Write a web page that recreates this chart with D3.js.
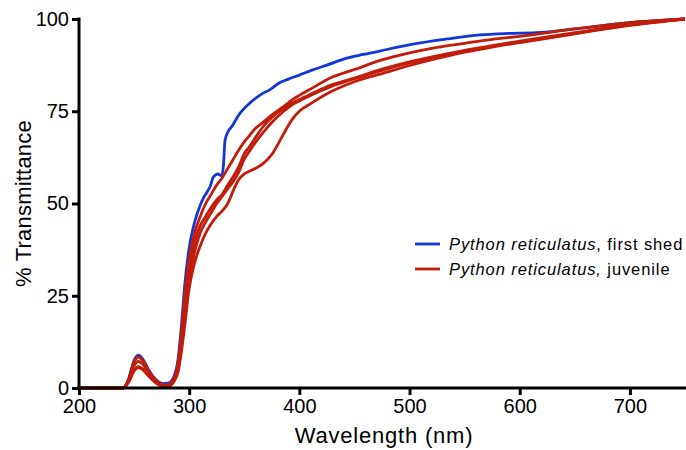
<!DOCTYPE html>
<html>
<head>
<meta charset="utf-8">
<script src="https://cdn.jsdelivr.net/npm/d3@7"></script>
<style>
  body { margin: 0; background: #fff; }
  svg { display: block; font-family: "Liberation Sans", Arial, sans-serif; }
</style>
</head>
<body>
<svg id="chart"></svg>
<script>
const WIDTH = 686, HEIGHT = 450;

const margin = { top: 19, bottom: 62, left: 79, right: 1 };

// first shed (blue)
const shedWl = [200, 240, 245, 250, 254, 258, 263, 270, 276, 281, 286, 290, 293, 296, 300, 305, 310, 313, 316, 319, 322, 326, 329.5, 331, 332.5, 335, 339, 345, 355, 365, 373, 382, 390, 400, 412, 425, 443, 458, 473, 488, 503, 534, 564, 590, 615, 650, 700, 750];
const shedT  = [0, 0, 2.5, 7.5, 8.9, 7.8, 5, 2.2, 1.2, 1.3, 3, 8, 17, 28, 38, 45, 49.5, 51.5, 53, 54.6, 57.2, 58, 57.5, 60, 67, 69.3, 71, 74, 77.2, 79.5, 80.8, 82.7, 83.7, 84.8, 86.2, 87.5, 89.4, 90.4, 91.3, 92.3, 93.2, 94.6, 95.7, 96.1, 96.3, 97.3, 99, 100];

// juvenile (red), four scans
const juvWl = [200, 240, 245, 250, 254, 258, 263, 270, 276, 281, 286, 290, 293, 296, 300, 305, 310, 315, 320, 325, 330, 335, 340, 345, 350, 355, 360, 367, 376, 385, 394, 400, 410, 428, 450, 475, 500, 525, 550, 575, 600, 650, 700, 750];
const juv1T = [0, 0, 2.3, 7, 8.4, 7.4, 4.8, 2, 0.9, 0.9, 2.5, 7, 15, 25, 35, 42, 46.5, 50, 52.5, 55, 57, 59.5, 62, 64.5, 66.7, 68.5, 70.3, 72, 74.2, 76.1, 78.2, 79.3, 81, 84, 86.3, 88.9, 90.8, 92.3, 93.4, 94.5, 95.3, 97.3, 99, 100];
const juv2T = [0, 0, 2, 6, 7.2, 6.4, 4.2, 1.7, 0.8, 0.8, 2.2, 6, 13, 22, 32, 39.5, 44, 46.5, 49, 51, 52.5, 55, 57.3, 60, 63.5, 65.5, 67.8, 70.8, 73.6, 75.6, 77.3, 78.2, 79.6, 82, 84, 86.4, 88.4, 90, 91.5, 92.8, 94, 96.3, 98.5, 100];
const juv3T = [0, 0, 1.7, 4.9, 5.8, 5.2, 3.5, 1.4, 0.6, 0.6, 1.9, 5, 11, 19, 29, 37, 42, 45, 47.5, 50, 52, 54, 56, 58.5, 62, 64.3, 66.5, 69.2, 72.3, 74.8, 76.9, 77.8, 79.3, 81.6, 83.8, 86.1, 88.1, 89.8, 91.3, 92.6, 93.8, 96.1, 98.4, 100];
const juv4T = [0, 0, 1.6, 4.6, 5.5, 4.9, 3.3, 1.3, 0.5, 0.5, 1.7, 4.5, 10, 17, 27, 34, 38.5, 42, 44.5, 46.5, 48, 50, 53.5, 56.5, 58, 58.8, 59.5, 60.8, 63.7, 68.5, 73, 75, 77, 80.2, 83, 85.2, 87.4, 89.3, 91, 92.4, 93.6, 96, 98.3, 100];

const xTicks = [200, 300, 400, 500, 600, 700];
const yTicks = [0, 25, 50, 75, 100];

const legendLabels = [
  { species: "Python reticulatus", rest: ", first shed", color: "#1236d8" },
  { species: "Python reticulatus,", rest: " juvenile", color: "#c21c0a" }
];

const width = WIDTH - margin.left - margin.right,
      height = HEIGHT - margin.top - margin.bottom;

const svg = d3.select("svg#chart")
  .attr("width", WIDTH)
  .attr("height", HEIGHT);

const x = d3.scaleLinear().domain([200, 750]).range([margin.left, margin.left + width]);
const y = d3.scaleLinear().domain([0, 100]).range([margin.top + height, margin.top]);

const line = d3.line()
  .x(d => x(d[0]))
  .y(d => y(d[1]))
  .curve(d3.curveMonotoneX);

const zip = (a, b) => a.map((v, i) => [v, b[i]]);

const series = [
  { pts: zip(shedWl, shedT), color: legendLabels[0].color },
  { pts: zip(juvWl, juv4T), color: legendLabels[1].color },
  { pts: zip(juvWl, juv3T), color: legendLabels[1].color },
  { pts: zip(juvWl, juv2T), color: legendLabels[1].color },
  { pts: zip(juvWl, juv1T), color: legendLabels[1].color }
];

svg.append("g")
  .selectAll("path")
  .data(series)
  .join("path")
    .attr("d", d => line(d.pts))
    .attr("fill", "none")
    .attr("stroke", d => d.color)
    .attr("stroke-width", 2.8)
    .attr("stroke-linejoin", "round");

// axes
const xAxis = svg.append("g")
  .attr("transform", `translate(0, ${margin.top + height})`)
  .call(d3.axisBottom(x).tickValues(xTicks).tickSize(7).tickSizeOuter(0).tickPadding(4));

const yAxis = svg.append("g")
  .attr("transform", `translate(${margin.left}, 0)`)
  .call(d3.axisLeft(y).tickValues(yTicks).tickSize(7).tickSizeOuter(0).tickPadding(3));

[xAxis, yAxis].forEach(a => {
  a.select(".domain").attr("stroke", "#000").attr("stroke-width", 3);
  a.selectAll(".tick line").attr("stroke", "#000").attr("stroke-width", 3);
  a.selectAll(".tick text")
    .attr("fill", "#000")
    .style("font-size", "20px")
    .style("font-family", "'Liberation Sans', Arial, sans-serif");
});
xAxis.select(".domain").attr("d", `M${margin.left - 2},0H${WIDTH}`);
yAxis.select(".domain").attr("d", `M0,${margin.top - 1.5}V${margin.top + height + 1.5}`);

svg.append("text")
  .attr("x", margin.left + width / 2 + 2)
  .attr("y", 443)
  .attr("text-anchor", "middle")
  .style("font-size", "22px")
  .style("letter-spacing", "0.8px")
  .text("Wavelength (nm)");

svg.append("text")
  .attr("transform", `translate(31, ${margin.top + height / 2}) rotate(-90)`)
  .attr("text-anchor", "middle")
  .style("font-size", "22px")
  .style("letter-spacing", "0.2px")
  .text("% Transmittance");

// legend
const legend = svg.append("g")
  .attr("transform", "translate(415, 244)");

const item = legend.selectAll("g")
  .data(legendLabels)
  .join("g")
    .attr("transform", (d, i) => `translate(0, ${i * 25})`);

item.append("line")
  .attr("x1", 0).attr("x2", 25)
  .attr("stroke", d => d.color)
  .attr("stroke-width", 2.8);

const label = item.append("text")
  .attr("x", 34)
  .attr("dy", "0.36em")
  .style("font-size", "16.5px")
  .style("letter-spacing", "0.9px");

label.append("tspan").style("font-style", "italic").text(d => d.species);
label.append("tspan").text(d => d.rest);
</script>
</body>
</html>
